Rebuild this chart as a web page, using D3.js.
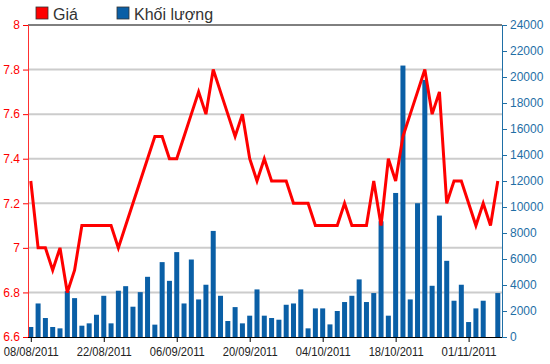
<!DOCTYPE html>
<html><head><meta charset="utf-8">
<script src="https://cdn.jsdelivr.net/npm/d3@7"></script>
<style>body{margin:0;background:#fff}svg{display:block}</style>
</head><body><svg id="c" width="550" height="364"></svg>
<script>
const dates = ["08/08/2011","09/08/2011","10/08/2011","11/08/2011","12/08/2011","15/08/2011","16/08/2011","17/08/2011","18/08/2011","19/08/2011",
"22/08/2011","23/08/2011","24/08/2011","25/08/2011","26/08/2011","29/08/2011","30/08/2011","31/08/2011","01/09/2011","05/09/2011",
"06/09/2011","07/09/2011","08/09/2011","09/09/2011","12/09/2011","13/09/2011","14/09/2011","15/09/2011","16/09/2011","19/09/2011",
"20/09/2011","21/09/2011","22/09/2011","23/09/2011","26/09/2011","27/09/2011","28/09/2011","29/09/2011","30/09/2011","03/10/2011",
"04/10/2011","05/10/2011","06/10/2011","07/10/2011","10/10/2011","11/10/2011","12/10/2011","13/10/2011","14/10/2011","17/10/2011",
"18/10/2011","19/10/2011","20/10/2011","21/10/2011","24/10/2011","25/10/2011","26/10/2011","27/10/2011","28/10/2011","31/10/2011",
"01/11/2011","02/11/2011","03/11/2011","04/11/2011","07/11/2011"];
const price = [7.3,7.0,7.0,6.9,7.0,6.8,6.9,7.1,7.1,7.1,
7.1,7.1,7.0,7.1,7.2,7.3,7.4,7.5,7.5,7.4,
7.4,7.5,7.6,7.7,7.6,7.8,7.7,7.6,7.5,7.6,
7.4,7.3,7.4,7.3,7.3,7.3,7.2,7.2,7.2,7.1,
7.1,7.1,7.1,7.2,7.1,7.1,7.1,7.3,7.1,7.4,
7.3,7.5,7.6,7.7,7.8,7.6,7.7,7.2,7.3,7.3,
7.2,7.1,7.2,7.1,7.3];
const volume = [770,2580,1460,770,665,3530,2990,870,1050,1710,
3170,1050,3560,3910,2330,3450,4630,950,5760,4320,
6530,2580,5960,2890,4020,8160,3170,1230,2300,1050,
1640,3660,1640,1460,1330,2480,2580,3660,665,2200,
2200,970,2000,2690,3170,4430,2690,3380,8900,1640,
11080,20880,2890,10290,19780,3940,9340,5860,2790,4020,
1150,2200,2790,0,3380];
const tickDates = ["08/08/2011","22/08/2011","06/09/2011","20/09/2011","04/10/2011","18/10/2011","01/11/2011"];
const priceTicks = [6.6,6.8,7,7.2,7.4,7.6,7.8,8];
const volumeTicks = [0,2000,4000,6000,8000,10000,12000,14000,16000,18000,20000,22000,24000];

const svg = d3.select("#c");
const L = 28, R = 502, T = 25, B = 337;
const x = d3.scalePoint().domain(dates).range([30.8, 497.8]);
const yP = d3.scaleLinear().domain([6.6, 8]).range([B, T]);
const yV = d3.scaleLinear().domain([0, 24000]).range([B, T]);
const font = "'Liberation Sans', Arial, sans-serif";

// gridlines
svg.append("g").selectAll("line").data(priceTicks.filter(v => v > 6.6 && v < 8)).join("line")
  .attr("x1", L).attr("x2", R).attr("y1", d => yP(d)).attr("y2", d => yP(d))
  .attr("stroke", "#cccccc").attr("stroke-width", 2);

// bars
const bw = 5;
svg.append("g").selectAll("rect").data(volume).join("rect")
  .attr("x", (d, i) => x(dates[i]) - bw / 2)
  .attr("width", bw)
  .attr("y", d => yV(d))
  .attr("height", d => B - yV(d))
  .attr("fill", "#0a5fa6");

// line
svg.append("path").datum(price)
  .attr("d", d3.line().x((d, i) => x(dates[i])).y(d => yP(d)))
  .attr("fill", "none").attr("stroke", "#ff0000").attr("stroke-width", 3)
  .attr("stroke-linejoin", "miter").attr("stroke-linecap", "butt");

// frame top
svg.append("line").attr("x1", L).attr("x2", R).attr("y1", T).attr("y2", T).attr("stroke", "#000").attr("stroke-width", 1);

// left axis
const gl = svg.append("g").attr("transform", `translate(${L},0)`)
  .call(d3.axisLeft(yP).tickValues(priceTicks).tickFormat(d3.format("~g")).tickSize(5).tickPadding(3));
gl.select(".domain").attr("stroke", "#ff3030");
gl.selectAll(".tick line").attr("stroke", "#ff0000");
gl.selectAll("text").attr("fill", "#ff0000").style("font-family", font).style("font-size", "12px");

// right axis
const gr = svg.append("g").attr("transform", `translate(${R},0)`)
  .call(d3.axisRight(yV).tickValues(volumeTicks).tickFormat(d3.format("d")).tickSize(5).tickPadding(3));
gr.select(".domain").attr("stroke", "#1f6fa6");
gr.selectAll(".tick line").attr("stroke", "#1f6fa6");
gr.selectAll("text").attr("fill", "#1f6fa6").style("font-family", font).style("font-size", "12px");

// bottom axis
const gb = svg.append("g").attr("transform", `translate(0,${B})`)
  .call(d3.axisBottom(x).tickValues(tickDates).tickSize(5).tickPadding(5));
gb.select(".domain").attr("d", `M${L},0.5H${R}`).attr("stroke", "#000");
gb.selectAll(".tick line").attr("stroke", "#000");
gb.selectAll("text").attr("fill", "#222").style("font-family", font).style("font-size", "12.5px")
  .attr("textLength", 55).attr("lengthAdjust", "spacingAndGlyphs");

// legend
const legend = [{name: "Giá", color: "#ff0000", x: 36}, {name: "Khối lượng", color: "#0a5fa6", x: 117}];
const lg = svg.append("g").selectAll("g").data(legend).join("g")
  .attr("transform", d => `translate(${d.x},7)`);
lg.append("rect").attr("width", 12).attr("height", 12).attr("fill", d => d.color)
  .attr("stroke", "#333").attr("stroke-width", 0.8);
lg.append("text").attr("x", 17).attr("y", 12.5).text(d => d.name)
  .attr("fill", "#333").style("font-family", font).style("font-size", "16px");
</script></body></html>
